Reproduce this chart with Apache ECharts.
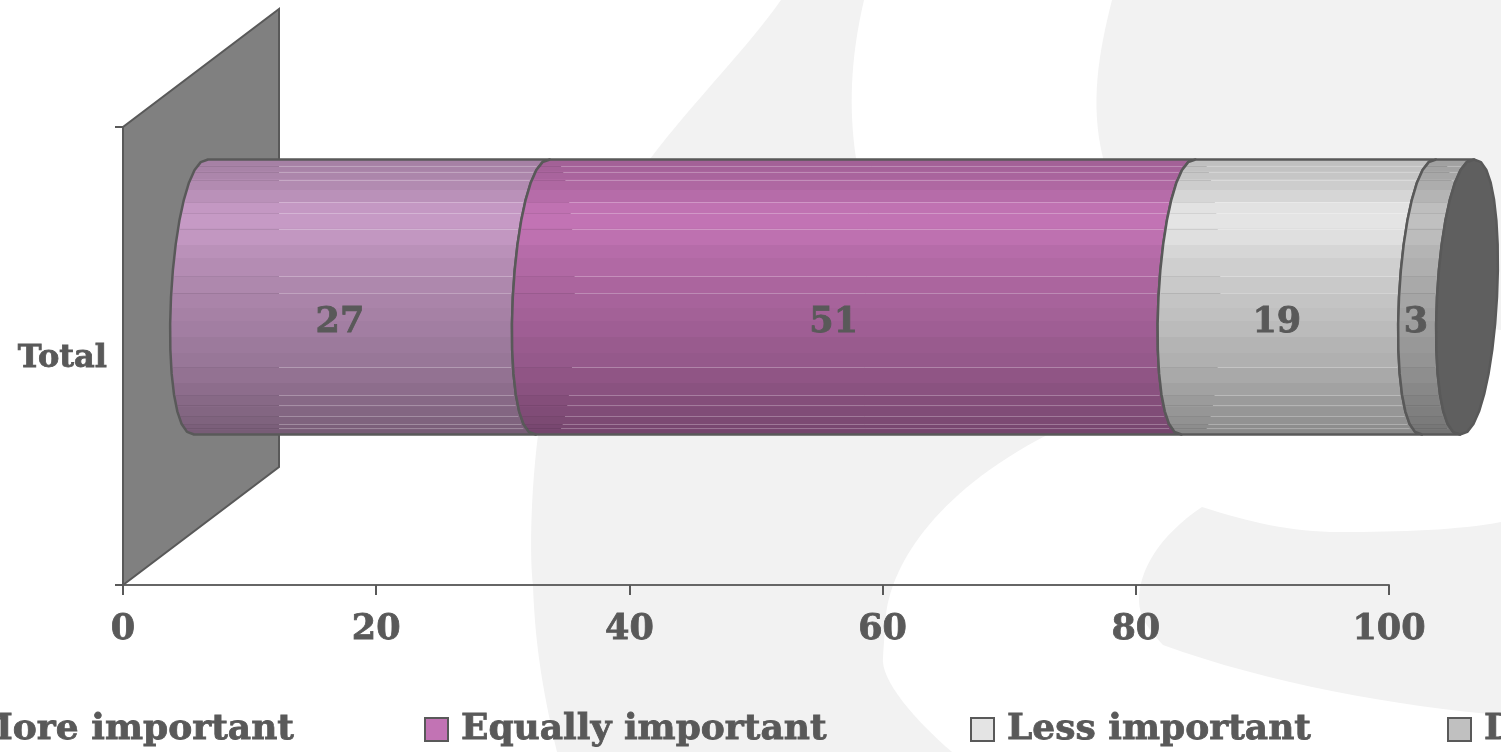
<!DOCTYPE html>
<html>
<head>
<meta charset="utf-8">
<style>html,body{margin:0;padding:0;background:#fff;overflow:hidden}#chart{width:1501px;height:752px}</style>
<script src="https://cdn.jsdelivr.net/npm/echarts@6/dist/echarts.min.js"></script>
</head>
<body>
<div id="chart"></div>
<script>
// Survey result
const categories = ['Total'];
const seriesNames = ['More important', 'Equally important', 'Less important', "Don't know"];
const moreImportant = [27];
const equallyImportant = [51];
const lessImportant = [19];
const dontKnow = [3];
const valueTicks = [0, 100];

const FONT = '"DejaVu Serif"';
const INK = '#595959';
const TEXT_HALO = 0.8;
const BASE_COLORS = [[198, 154, 197], [194, 115, 180], [228, 228, 228], [192, 192, 192]];

// Projection of the 3D plot box
const DEPTH_X = 156, DEPTH_Y = -118;
const RX = 30, RY = 137.5, SKEW = 7, RING_FULLNESS = 0.88;

// Shading bands of the cylinder: upper edge as a fraction of its height, then brightness
const bandEdges = [0, .025, .047, .076, .113, .156, .196, .251, .313, .36, .429, .484, .538, .586, .644, .702, .756, .811, .855, .895, .931, .96, .978, .993, 1];
const bandShade = [.84, .85, .87, .90, .94, .99, 1, .98, .94, .91, .88, .86, .84, .82, .79, .77, .74, .71, .68, .66, .64, .62, .60, .58];
// Hairlines left by the band joins
const seamFractions = [.025, .047, .076, .153, .196, .251, .425, .484, .756, .855, .891, .931, .96, .975];

function shadeStops(rgb) {
  const stops = [];
  bandShade.forEach((k, i) => {
    const c = 'rgb(' + rgb.map(v => Math.round(v * k)).join(',') + ')';
    stops.push({offset: bandEdges[i], color: c}, {offset: bandEdges[i + 1], color: c});
  });
  return stops;
}

function ringPoint(cx, cy, t) {
  const c = Math.cos(t);
  const bulge = Math.sign(c) * Math.pow(Math.abs(c), RING_FULLNESS);
  return [cx + RX * bulge - SKEW * Math.sin(t), cy + RY * Math.sin(t)];
}
// Left half of the tilted ring whose centre is (cx, cy), top to bottom
function frontArc(cx, cy) {
  const pts = [];
  for (let i = 0; i <= 16; i++) pts.push(ringPoint(cx, cy, -Math.PI / 2 - i * Math.PI / 16));
  return pts;
}
function backArc(cx, cy) {
  const pts = [];
  for (let i = 1; i < 16; i++) pts.push(ringPoint(cx, cy, Math.PI / 2 - i * Math.PI / 16));
  return pts;
}
// x of the front edge of a ring at height fraction f
function arcX(cx, f) {
  const s = 2 * f - 1;
  return cx - RX * Math.pow(1 - s * s, RING_FULLNESS / 2) - SKEW * s;
}

function renderSegment(seriesIndex, params, api) {
  const p0 = api.coord([api.value(0), api.value(2)]);
  const p1 = api.coord([api.value(1), api.value(2)]);
  const x0 = p0[0] + DEPTH_X / 2, x1 = p1[0] + DEPTH_X / 2, cy = p0[1] + DEPTH_Y / 2;
  const wallRight = params.coordSys.x + DEPTH_X;
  const rgb = BASE_COLORS[seriesIndex];
  const left = frontArc(x0, cy), right = frontArc(x1, cy);
  const children = [{
    type: 'polygon',
    shape: {points: left.concat(right.slice().reverse())},
    style: {
      fill: {type: 'linear', x: 0, y: 0, x2: 0, y2: 1, colorStops: shadeStops(rgb)},
      stroke: INK, lineWidth: 2.5, lineJoin: 'round'
    }
  }];
  seamFractions.forEach(f => {
    const y = Math.round(cy - RY + f * 2 * RY) + 0.5;
    const s = 2 * f - 1;
    const xa = arcX(x0, f) + 2, xb = arcX(x1, f) - 2;
    const lightFrom = Math.min(xb, Math.max(x0 + 12 + 20 * Math.sqrt(1 - s * s), wallRight));
    children.push(
      {type: 'line', shape: {x1: xa, y1: y, x2: lightFrom, y2: y}, style: {stroke: 'rgba(0,0,0,0.08)', lineWidth: 1}},
      {type: 'line', shape: {x1: lightFrom, y1: y, x2: xb, y2: y}, style: {stroke: 'rgba(255,255,255,0.26)', lineWidth: 1}}
    );
  });
  if (api.value(1) >= valueTicks[1]) {
    children.push({
      type: 'polygon',
      shape: {points: right.concat(backArc(x1, cy))},
      style: {fill: '#5f5f5f', stroke: INK, lineWidth: 2.5, lineJoin: 'round'}
    });
  }
  const mid = api.coord([(api.value(0) + api.value(1)) / 2, api.value(2)]);
  children.push({
    type: 'text',
    style: {
      x: mid[0] + 46, y: mid[1] - 33, text: String(api.value(3)),
      font: 'bold 35px ' + FONT, fill: INK, stroke: INK, lineWidth: TEXT_HALO,
      align: 'center', verticalAlign: 'middle'
    }
  });
  return {type: 'group', children};
}

function renderWall(params, api) {
  const c = params.coordSys;
  return {
    type: 'polygon',
    shape: {points: [[c.x, c.y + c.height], [c.x, c.y], [c.x + DEPTH_X, c.y + DEPTH_Y], [c.x + DEPTH_X, c.y + c.height + DEPTH_Y]]},
    style: {fill: '#808080', stroke: INK, lineWidth: 2}
  };
}

function stackedSeries(values, index) {
  const data = categories.map((_, i) => {
    let base = 0;
    [moreImportant, equallyImportant, lessImportant, dontKnow].slice(0, index).forEach(v => { base += v[i]; });
    return [base, base + values[i], i, values[i]];
  });
  const legendTint = 'rgb(' + BASE_COLORS[index].join(',') + ')';
  return {
    type: 'custom', name: seriesNames[index], coordinateSystem: 'cartesian2d',
    encode: {x: [0, 1], y: 2}, data, silent: true, z: 3,
    itemStyle: {color: legendTint, borderColor: INK, borderWidth: 2},
    renderItem: (params, api) => renderSegment(index, params, api)
  };
}

function legendFor(name, left) {
  return {
    data: [name], left, top: 711, orient: 'horizontal', icon: 'rect', itemWidth: 23, itemHeight: 23,
    padding: 0, selectedMode: false,
    textStyle: {
      fontFamily: FONT, fontWeight: 'bold', fontSize: 36, color: INK,
      textBorderColor: INK, textBorderWidth: TEXT_HALO, padding: [3, 0, 0, 8]
    }
  };
}

// Pale backdrop shapes
const backdrop = [
  'M781 0 C750 45 695 100 650 159 C600 260 545 340 538 435 C530 500 530 560 533 585 C535 650 545 700 557 752 L952 752 C915 720 880 680 883 657 C884 640 885 630 886 617 C890 570 930 495 1049 434 L950 300 L856 158 C849 110 850 60 864 0 Z',
  'M1112 0 C1098 55 1090 105 1103 158 L1140 300 L1501 330 L1501 0 Z',
  'M1202 507 C1250 522 1290 532 1340 532 C1400 532 1460 530 1501 522 L1501 715 C1400 707 1267 683 1163 645 C1150 630 1139 618 1139 600 C1139 570 1160 535 1202 507 Z'
];

const chart = echarts.init(document.getElementById('chart'), null, {renderer: 'canvas'});
chart.setOption({
  animation: false,
  backgroundColor: '#ffffff',
  grid: {left: 123, right: 112, top: 127, bottom: 167, containLabel: false},
  xAxis: {
    type: 'value', min: valueTicks[0], max: valueTicks[1], interval: 20,
    splitLine: {show: false},
    axisLine: {show: true, lineStyle: {color: '#666', width: 2}},
    axisTick: {show: true, length: 10, lineStyle: {color: INK, width: 2}},
    axisLabel: {
      margin: 27, fontFamily: FONT, fontWeight: 'bold', fontSize: 35, color: INK,
      textBorderColor: INK, textBorderWidth: TEXT_HALO, hideOverlap: false
    }
  },
  yAxis: {
    type: 'category', data: categories,
    axisLine: {show: true, onZero: false, lineStyle: {color: INK, width: 2}},
    axisTick: {show: true, length: 8, lineStyle: {color: INK, width: 2}},
    axisLabel: {
      margin: 16,
      formatter: '{name|{value}}',
      rich: {
        name: {
          fontFamily: FONT, fontWeight: 'bold', fontSize: 32, color: INK,
          textBorderColor: INK, textBorderWidth: TEXT_HALO, padding: [6, 0, 0, 0]
        }
      }
    }
  },
  legend: [
    legendFor(seriesNames[0], -64),
    legendFor(seriesNames[1], 424),
    legendFor(seriesNames[2], 970),
    legendFor(seriesNames[3], 1447)
  ],
  series: [
    {
      type: 'custom', name: 'backdrop', coordinateSystem: 'none', data: backdrop.map((_, i) => [i]),
      silent: true, z: -1,
      renderItem: (params) => ({type: 'path', shape: {pathData: backdrop[params.dataIndex]}, style: {fill: '#f2f2f2'}})
    },
    {type: 'custom', name: 'wall', coordinateSystem: 'cartesian2d', data: [[0, 0]], encode: {x: 0, y: 1}, silent: true, z: 2, renderItem: renderWall},
    stackedSeries(moreImportant, 0),
    stackedSeries(equallyImportant, 1),
    stackedSeries(lessImportant, 2),
    stackedSeries(dontKnow, 3)
  ]
});
</script>
</body>
</html>
